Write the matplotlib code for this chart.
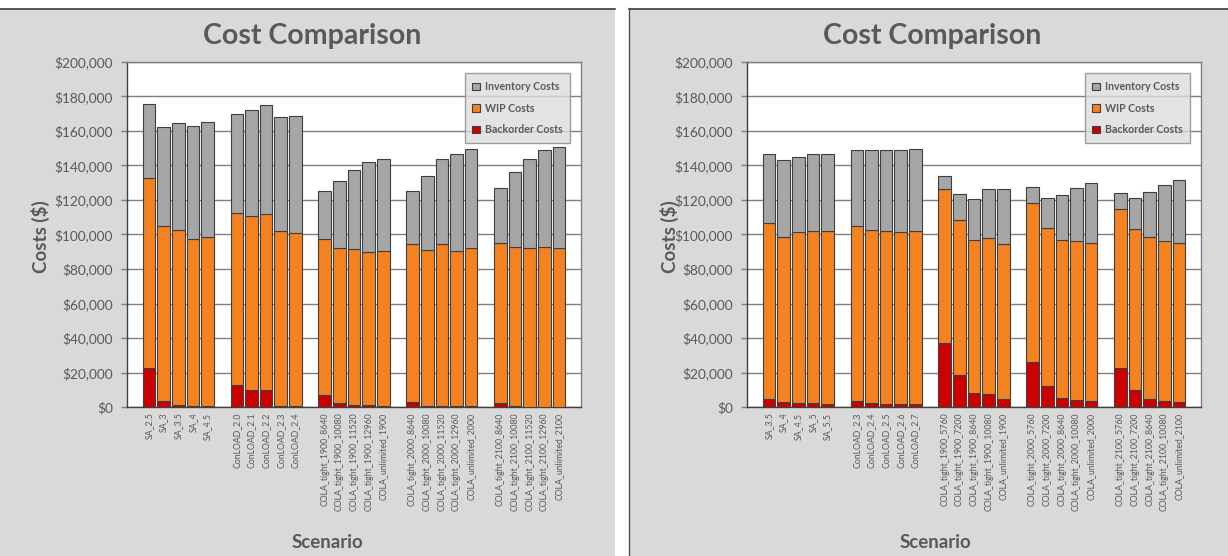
import numpy as np
import matplotlib
matplotlib.use("Agg")
import matplotlib.pyplot as plt
from matplotlib.patches import Rectangle
from matplotlib.ticker import FuncFormatter, MultipleLocator

# ---------------- data ----------------
left_groups = [
    ['SA_2.5', 'SA_3', 'SA_3.5', 'SA_4', 'SA_4.5'],
    ['ConLOAD_2.0', 'ConLOAD_2.1', 'ConLOAD_2.2', 'ConLOAD_2.3', 'ConLOAD_2.4'],
    ['COLA_tight_1900_8640', 'COLA_tight_1900_10080', 'COLA_tight_1900_11520',
     'COLA_tight_1900_12960', 'COLA_unlimited_1900'],
    ['COLA_tight_2000_8640', 'COLA_tight_2000_10080', 'COLA_tight_2000_11520',
     'COLA_tight_2000_12960', 'COLA_unlimited_2000'],
    ['COLA_tight_2100_8640', 'COLA_tight_2100_10080', 'COLA_tight_2100_11520',
     'COLA_tight_2100_12960', 'COLA_unlimited_2100'],
]
left_backorder = [22800, 3500, 1200, 500, 500,
                  12600, 9700, 9700, 500, 300,
                  6800, 2300, 1000, 1000, 500,
                  2900, 500, 500, 300, 300,
                  2500, 500, 200, 200, 200]
left_wip = [109800, 101600, 101400, 96900, 98200,
            99700, 101200, 102400, 101700, 100800,
            90400, 89700, 90400, 88800, 89900,
            91400, 90700, 93800, 90100, 91700,
            92600, 92200, 92000, 92500, 92100]
left_inventory = [43000, 57500, 62000, 65600, 66600,
                  57300, 61000, 62700, 66200, 67700,
                  27900, 39100, 46100, 52100, 53600,
                  31200, 43000, 49200, 56200, 57300,
                  32100, 43400, 51500, 56400, 58300]

right_groups = [
    ['SA_3.5', 'SA_4', 'SA_4.5', 'SA_5', 'SA_5.5'],
    ['ConLOAD_2.3', 'ConLOAD_2.4', 'ConLOAD_2.5', 'ConLOAD_2.6', 'ConLOAD_2.7'],
    ['COLA_tight_1900_5760', 'COLA_tight_1900_7200', 'COLA_tight_1900_8640',
     'COLA_tight_1900_10080', 'COLA_unlimited_1900'],
    ['COLA_tight_2000_5760', 'COLA_tight_2000_7200', 'COLA_tight_2000_8640',
     'COLA_tight_2000_10080', 'COLA_unlimited_2000'],
    ['COLA_tight_2100_5760', 'COLA_tight_2100_7200', 'COLA_tight_2100_8640',
     'COLA_tight_2100_10080', 'COLA_unlimited_2100'],
]
right_backorder = [4500, 2900, 2300, 2300, 1900,
                   3700, 2500, 1500, 1500, 1500,
                   37200, 18800, 8300, 7700, 4600,
                   26100, 12000, 5400, 3900, 3500,
                   22800, 10100, 4800, 3500, 3100]
right_wip = [102000, 95800, 99100, 99500, 100100,
             101400, 100100, 100500, 99800, 100300,
             89200, 89600, 88500, 90500, 89700,
             92000, 92000, 91400, 92100, 91600,
             91800, 92900, 93900, 92500, 92200]
right_inventory = [40000, 44200, 43600, 44600, 44900,
                   44000, 46100, 46700, 47400, 47800,
                   7600, 15100, 23600, 28000, 32300,
                   9500, 17200, 25900, 31000, 35000,
                   9500, 18200, 26000, 32900, 36500]

series_names = ['Inventory Costs', 'WIP Costs', 'Backorder Costs']
title_text = 'Cost Comparison'
ylabel_text = 'Costs ($)'
xlabel_text = 'Scenario'

# ---------------- style ----------------
C_INV = '#a6a6a6'
C_WIP = '#f58220'
C_BO = '#cc0000'
EDGE = '#3f3f3f'
TXT = '#595959'
PANEL = '#d9d9d9'
GRID = '#7f7f7f'
FONT = ['Lato', 'DejaVu Sans']
plt.rcParams['font.family'] = FONT

W, H = 1228, 556
fig = plt.figure(figsize=(W / 100, H / 100), dpi=100)
fig.patch.set_facecolor('white')


def fx(px):
    return px / W


def fy(py):
    return 1 - py / H


def draw_panel(x0, x1, ax_left, title_cx, xlabel_cx, groups, bo, wip, inv):
    # panel background
    fig.add_artist(Rectangle((fx(x0), 0), fx(x1 - x0), fy(8), transform=fig.transFigure,
                             facecolor=PANEL, edgecolor='none', zorder=0))
    fig.add_artist(plt.Line2D([fx(x0), fx(x1)], [fy(8.5), fy(8.5)], transform=fig.transFigure,
                              color='#404040', lw=1.2, zorder=1))
    if x0 > 0:
        fig.add_artist(plt.Line2D([fx(x0 + 0.5), fx(x0 + 0.5)], [0, fy(8)], transform=fig.transFigure,
                                  color='#505050', lw=1.0, zorder=1))

    ax = fig.add_axes([fx(ax_left), fy(407), fx(454), (407 - 62) / H])
    ax.set_facecolor('white')

    labels = []
    pos = []
    p = 1
    for g in groups:
        for name in g:
            labels.append(name)
            pos.append(p)
            p += 1
        p += 1
    pos = np.array(pos, dtype=float)
    bo = np.array(bo, dtype=float)
    wip = np.array(wip, dtype=float)
    inv = np.array(inv, dtype=float)

    width = 0.86
    kw = dict(width=width, edgecolor=EDGE, linewidth=0.8, zorder=3)
    ax.bar(pos, bo, color=C_BO, label=series_names[2], **kw)
    ax.bar(pos, wip, bottom=bo, color=C_WIP, label=series_names[1], **kw)
    ax.bar(pos, inv, bottom=bo + wip, color=C_INV, label=series_names[0], **kw)

    ax.set_xlim(-0.5, p - 0.5)
    ax.set_ylim(0, 200000)
    ax.yaxis.set_major_locator(MultipleLocator(20000))
    ax.yaxis.set_major_formatter(FuncFormatter(lambda v, _: f'${v:,.0f}'))
    ax.grid(axis='y', color=GRID, lw=1.0, zorder=1)
    ax.set_axisbelow(True)
    ax.set_xticks(pos)
    ax.set_xticklabels(labels, rotation=90, fontsize=6.3, color=TXT)
    ax.tick_params(axis='x', length=0, pad=4)
    ax.tick_params(axis='y', length=4, width=1.0, color=GRID, labelsize=9.8,
                   labelcolor=TXT, pad=6, direction='out')
    for s in ax.spines.values():
        s.set_color(GRID)
        s.set_linewidth(1.0)
    ax.spines['left'].set_color('#404040')
    ax.spines['bottom'].set_color('#404040')

    h, l = ax.get_legend_handles_labels()
    leg = ax.legend(h[::-1], l[::-1], loc='upper right', bbox_to_anchor=(0.988, 0.983),
                    frameon=True, fancybox=False, shadow=False,
                    facecolor='#dcdcdc', edgecolor='#8a8a8a', labelspacing=1.0,
                    handlelength=0.75, handleheight=0.75, handletextpad=0.4,
                    borderpad=0.75, prop={'weight': 'bold', 'size': 7.6, 'family': FONT})
    for t in leg.get_texts():
        t.set_color(TXT)
    leg.get_frame().set_linewidth(1.0)
    leg.set_zorder(5)

    fig.text(fx(title_cx), fy(36), title_text, ha='center', va='center', fontsize=20.5,
             fontweight='bold', color=TXT)
    fig.text(fx(x0 + 40), fy(237), ylabel_text, ha='center', va='center', rotation=90,
             fontsize=13.5, fontweight='bold', color=TXT)
    fig.text(fx(xlabel_cx), fy(543), xlabel_text, ha='center', va='center', fontsize=13.5,
             fontweight='bold', color=TXT)
    return ax


draw_panel(0, 615, 127, 312, 327, left_groups, left_backorder, left_wip, left_inventory)
draw_panel(629, 1228, 747, 932, 935, right_groups, right_backorder, right_wip, right_inventory)

fig.savefig('out.png', dpi=100, facecolor=fig.get_facecolor())
